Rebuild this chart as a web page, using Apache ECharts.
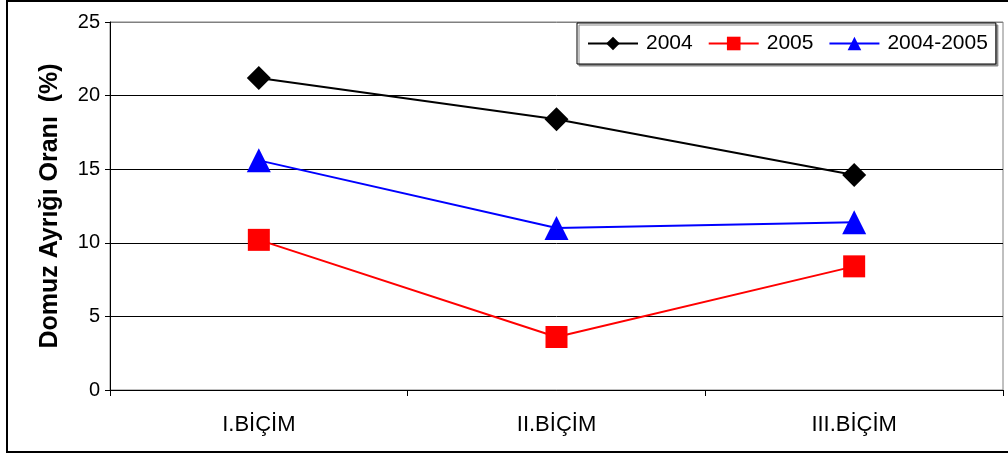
<!DOCTYPE html>
<html>
<head>
<meta charset="utf-8">
<script src="https://cdn.jsdelivr.net/npm/echarts@6/dist/echarts.min.js"></script>
<style>
html,body{margin:0;padding:0;background:#fff;}
#chart{width:1008px;height:454px;}
</style>
</head>
<body>
<div id="chart"></div>
<script>
const categories = ['I.BİÇİM', 'II.BİÇİM', 'III.BİÇİM'];
const s2004 = [21.2, 18.4, 14.6];
const s2005 = [10.2, 3.6, 8.4];
const s20042005 = [15.6, 11.0, 11.4];
const yTicks = [0, 5, 10, 15, 20, 25];
const yTitle = 'Domuz Ayrığı Oranı  (%)';

const font = 'Liberation Sans, Arial, sans-serif';
const chart = echarts.init(document.getElementById('chart'), null, {renderer: 'canvas'});
chart.setOption({
  animation: false,
  backgroundColor: '#fff',
  textStyle: {fontFamily: font},
  graphic: [{
    type: 'rect', silent: true, z: 0,
    shape: {x: 7, y: 1, width: 1010, height: 451},
    style: {fill: 'none', stroke: '#000', lineWidth: 2}
  }],
  grid: {left: 110, right: 5, top: 22, bottom: 64, show: true, borderColor: '#808080', borderWidth: 1, backgroundColor: 'transparent'},
  legend: {
    left: 577, top: 23,
    padding: [10, 8, 10, 10],
    itemGap: 15, itemWidth: 50, itemHeight: 17,
    borderColor: '#000', borderWidth: 1, backgroundColor: '#fff',
    shadowColor: '#888', shadowOffsetX: 2, shadowOffsetY: 2, shadowBlur: 0,
    textStyle: {fontFamily: font, fontSize: 21, color: '#000', padding: [0, 0, 0, 3]},
    data: ['2004', '2005', '2004-2005']
  },
  xAxis: {
    type: 'category', data: categories, boundaryGap: true,
    axisLine: {lineStyle: {color: '#000', width: 1}},
    axisTick: {show: true, length: 6, lineStyle: {color: '#000'}},
    axisLabel: {fontFamily: font, fontSize: 22, color: '#000', margin: 24},
    splitLine: {show: false}
  },
  yAxis: {
    type: 'value', min: yTicks[0], max: yTicks[yTicks.length - 1], interval: 5,
    name: yTitle, nameLocation: 'middle', nameRotate: 90, nameGap: 47,
    nameTextStyle: {fontFamily: font, fontSize: 25, fontWeight: 'bold', color: '#000'},
    axisLine: {show: true, lineStyle: {color: '#000', width: 1}},
    axisTick: {show: true, length: 5, lineStyle: {color: '#000'}},
    axisLabel: {fontFamily: font, fontSize: 20, color: '#000', margin: 10},
    splitLine: {show: true, lineStyle: {color: ['#000', '#000', '#000', '#000', '#000', '#808080'], width: 1}}
  },
  series: [
    {name: '2004', type: 'line', data: s2004, symbol: 'diamond', symbolSize: 24,
     itemStyle: {color: '#000'}, lineStyle: {color: '#000', width: 2}, z: 3},
    {name: '2005', type: 'line', data: s2005, symbol: 'rect', symbolSize: 22,
     itemStyle: {color: '#ff0000'}, lineStyle: {color: '#ff0000', width: 2}, z: 3},
    {name: '2004-2005', type: 'line', data: s20042005, symbol: 'triangle', symbolSize: 24,
     itemStyle: {color: '#0000ff'}, lineStyle: {color: '#0000ff', width: 2}, z: 3}
  ]
});
</script>
</body>
</html>
